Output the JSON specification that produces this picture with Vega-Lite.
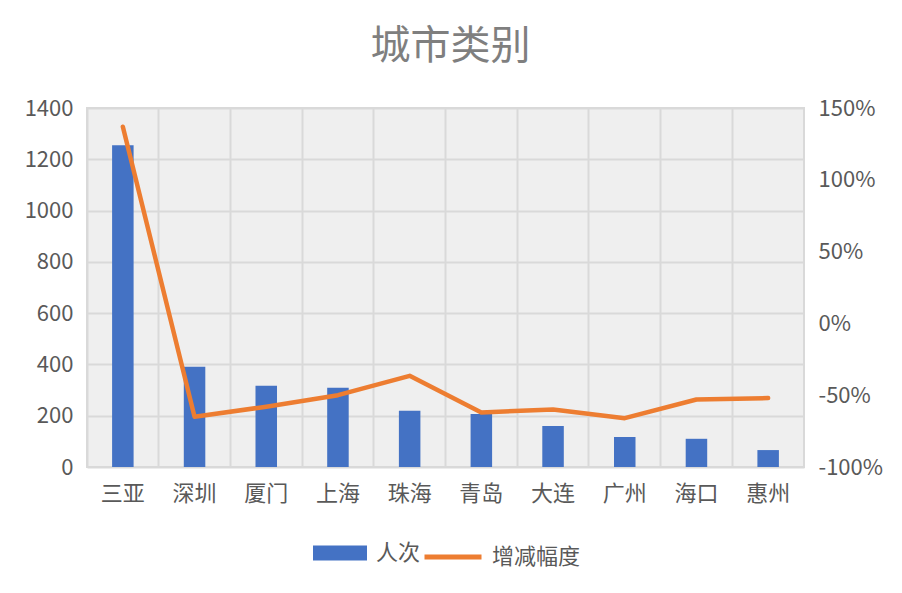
{
  "$schema": "https://vega.github.io/schema/vega-lite/v6.json",
  "autosize": {"type": "none"},
  "width": 717,
  "height": 359,
  "padding": {"left": 87, "top": 108, "right": 98, "bottom": 126},
  "background": "#ffffff",
  "title": {
    "text": "城市类别",
    "fontSize": 40,
    "fontWeight": "normal",
    "color": "#7f7f7f",
    "offset": 30,
    "dx": 5
  },
  "config": {
    "font": "Noto Sans CJK SC",
    "view": {"fill": "#efefef", "stroke": "#d9d9d9", "strokeWidth": 2}
  },
  "data": {
    "values": [
      {"城市": "三亚", "人次": 1255, "增减幅度": 1.37},
      {"城市": "深圳", "人次": 391, "增减幅度": -0.65},
      {"城市": "厦门", "人次": 317, "增减幅度": -0.58},
      {"城市": "上海", "人次": 309, "增减幅度": -0.5},
      {"城市": "珠海", "人次": 219, "增减幅度": -0.365},
      {"城市": "青岛", "人次": 207, "增减幅度": -0.62},
      {"城市": "大连", "人次": 160, "增减幅度": -0.6},
      {"城市": "广州", "人次": 117, "增减幅度": -0.66},
      {"城市": "海口", "人次": 110, "增减幅度": -0.53},
      {"城市": "惠州", "人次": 66, "增减幅度": -0.52}
    ]
  },
  "encoding": {
    "x": {
      "field": "城市", "type": "nominal", "sort": null,
      "scale": {"paddingInner": 0, "paddingOuter": 0},
      "axis": {
        "title": null, "labelAngle": 0, "labelFontSize": 22, "labelColor": "#595959",
        "labelPadding": 16, "ticks": false, "domain": false,
        "grid": true, "bandPosition": 0, "gridColor": "#d9d9d9", "gridWidth": 2
      }
    }
  },
  "layer": [
    {
      "mark": {"type": "bar", "width": {"band": 0.3}},
      "encoding": {
        "y": {
          "field": "人次", "type": "quantitative",
          "scale": {"domain": [0, 1400], "nice": false},
          "axis": {
            "title": null, "format": "d", "values": [0, 200, 400, 600, 800, 1000, 1200, 1400],
            "labelFontSize": 22, "labelColor": "#595959", "labelPadding": 14,
            "ticks": false, "domain": false,
            "grid": true, "gridColor": "#d9d9d9", "gridWidth": 2
          }
        },
        "fill": {
          "datum": "人次",
          "scale": {"range": ["#4472c4"]},
          "legend": {
            "title": null, "orient": "none", "legendX": 226, "legendY": 418,
            "padding": 0, "symbolType": "M-1,-0.28H1V0.28H-1Z", "symbolSize": 2916,
            "symbolStrokeWidth": 0, "labelFontSize": 22, "labelColor": "#595959",
            "labelOffset": 9
          }
        }
      }
    },
    {
      "mark": {"type": "line", "strokeWidth": 4.5, "strokeCap": "round", "strokeJoin": "round"},
      "encoding": {
        "y": {
          "field": "增减幅度", "type": "quantitative",
          "scale": {"domain": [-1, 1.5], "nice": false},
          "axis": {
            "title": null, "orient": "right", "format": ".0%",
            "labelExpr": "replace(datum.label, '−', '-')",
            "values": [-1, -0.5, 0, 0.5, 1, 1.5],
            "labelFontSize": 22, "labelColor": "#595959", "labelPadding": 14,
            "ticks": false, "domain": false, "grid": false
          }
        },
        "stroke": {
          "datum": "增减幅度",
          "scale": {"range": ["#ed7d31"]},
          "legend": {
            "title": null, "orient": "none", "legendX": 335, "legendY": 418,
            "padding": 0, "symbolType": "stroke", "symbolSize": 3249,
            "symbolStrokeWidth": 5, "labelFontSize": 22, "labelColor": "#595959",
            "labelOffset": 8
          }
        }
      }
    }
  ],
  "resolve": {"scale": {"y": "independent"}}
}
